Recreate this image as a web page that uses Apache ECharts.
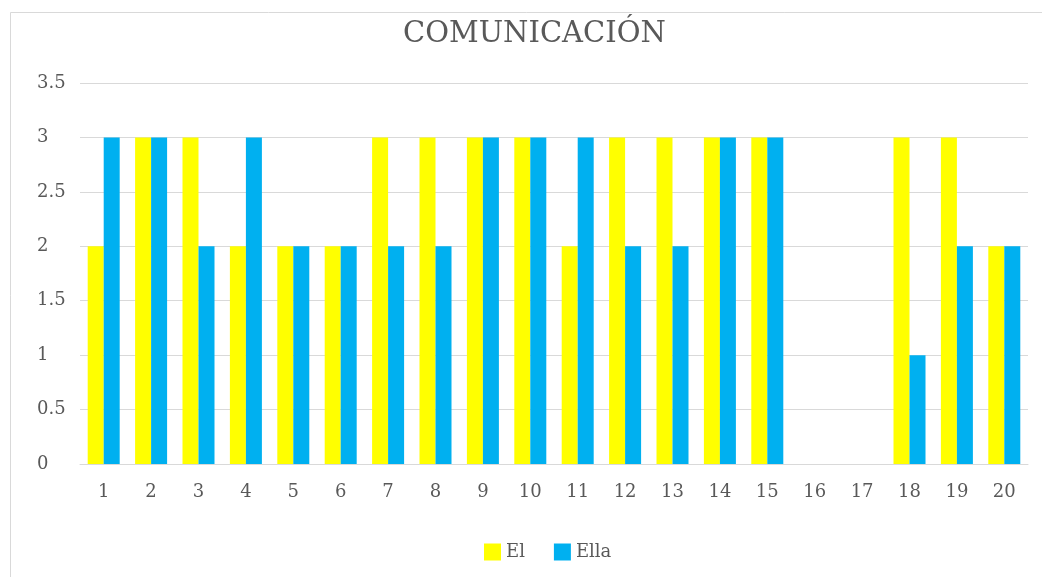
<!DOCTYPE html>
<html>
<head>
<meta charset="utf-8">
<script src="https://cdn.jsdelivr.net/npm/echarts@6/dist/echarts.min.js"></script>
<style>
html, body { margin: 0; padding: 0; background: #fff; }
#main { width: 1042px; height: 577px; }
</style>
</head>
<body>
<div id="main"></div>
<script>
// datos del grafico
var categorias = ['1','2','3','4','5','6','7','8','9','10','11','12','13','14','15','16','17','18','19','20'];
var valoresEl = [2,3,3,2,2,2,3,3,3,3,2,3,3,3,3,0,0,3,3,2];
var valoresElla = [3,3,2,3,2,2,2,2,3,3,3,2,2,3,3,0,0,1,2,2];
var nombres = ['El', 'Ella'];

var fuente = 'DejaVu Serif';
var gris = '#595959';

var myChart = echarts.init(document.getElementById('main'));
var option = {
	animation : false,
	backgroundColor : '#fff',
	graphic : [ {
		type : 'rect',
		shape : { x : 10.5, y : 12.5, width : 1040, height : 600 },
		style : { fill : 'none', stroke : '#d9d9d9', lineWidth : 1 },
		silent : true
	} ],
	title : {
		text : 'COMUNICACIÓN',
		left : 398,
		top : 15,
		textStyle : {
			fontFamily : fuente,
			fontSize : 29,
			fontWeight : 'normal',
			color : gris
		}
	},
	legend : {
		top : 538,
		left : 479,
		itemWidth : 17,
		itemHeight : 17,
		itemGap : 29,
		itemTextGap : 6,
		icon : 'rect',
		textStyle : {
			fontFamily : fuente,
			fontSize : 18,
			color : gris
		},
		data : nombres
	},
	grid : {
		left : 80,
		right : 14,
		top : 83,
		bottom : 113
	},
	xAxis : [ {
		type : 'category',
		data : categorias,
		axisLine : { lineStyle : { color : '#d9d9d9' } },
		axisTick : { show : false },
		axisLabel : {
			fontFamily : fuente,
			fontSize : 18,
			color : gris,
			margin : 19
		}
	} ],
	yAxis : [ {
		type : 'value',
		min : 0,
		max : 3.5,
		interval : 0.5,
		axisLine : { show : false },
		axisTick : { show : false },
		splitLine : { lineStyle : { color : '#d9d9d9' } },
		axisLabel : {
			fontFamily : fuente,
			fontSize : 18,
			color : gris,
			align : 'left',
			margin : 43
		}
	} ],
	series : [ {
		name : nombres[0],
		type : 'bar',
		data : valoresEl,
		barWidth : 16,
		barGap : '0%',
		itemStyle : { color : '#ffff00' }
	}, {
		name : nombres[1],
		type : 'bar',
		data : valoresElla,
		barWidth : 16,
		barGap : '0%',
		itemStyle : { color : '#00b0f0' }
	} ]
};
myChart.setOption(option);
</script>
</body>
</html>
